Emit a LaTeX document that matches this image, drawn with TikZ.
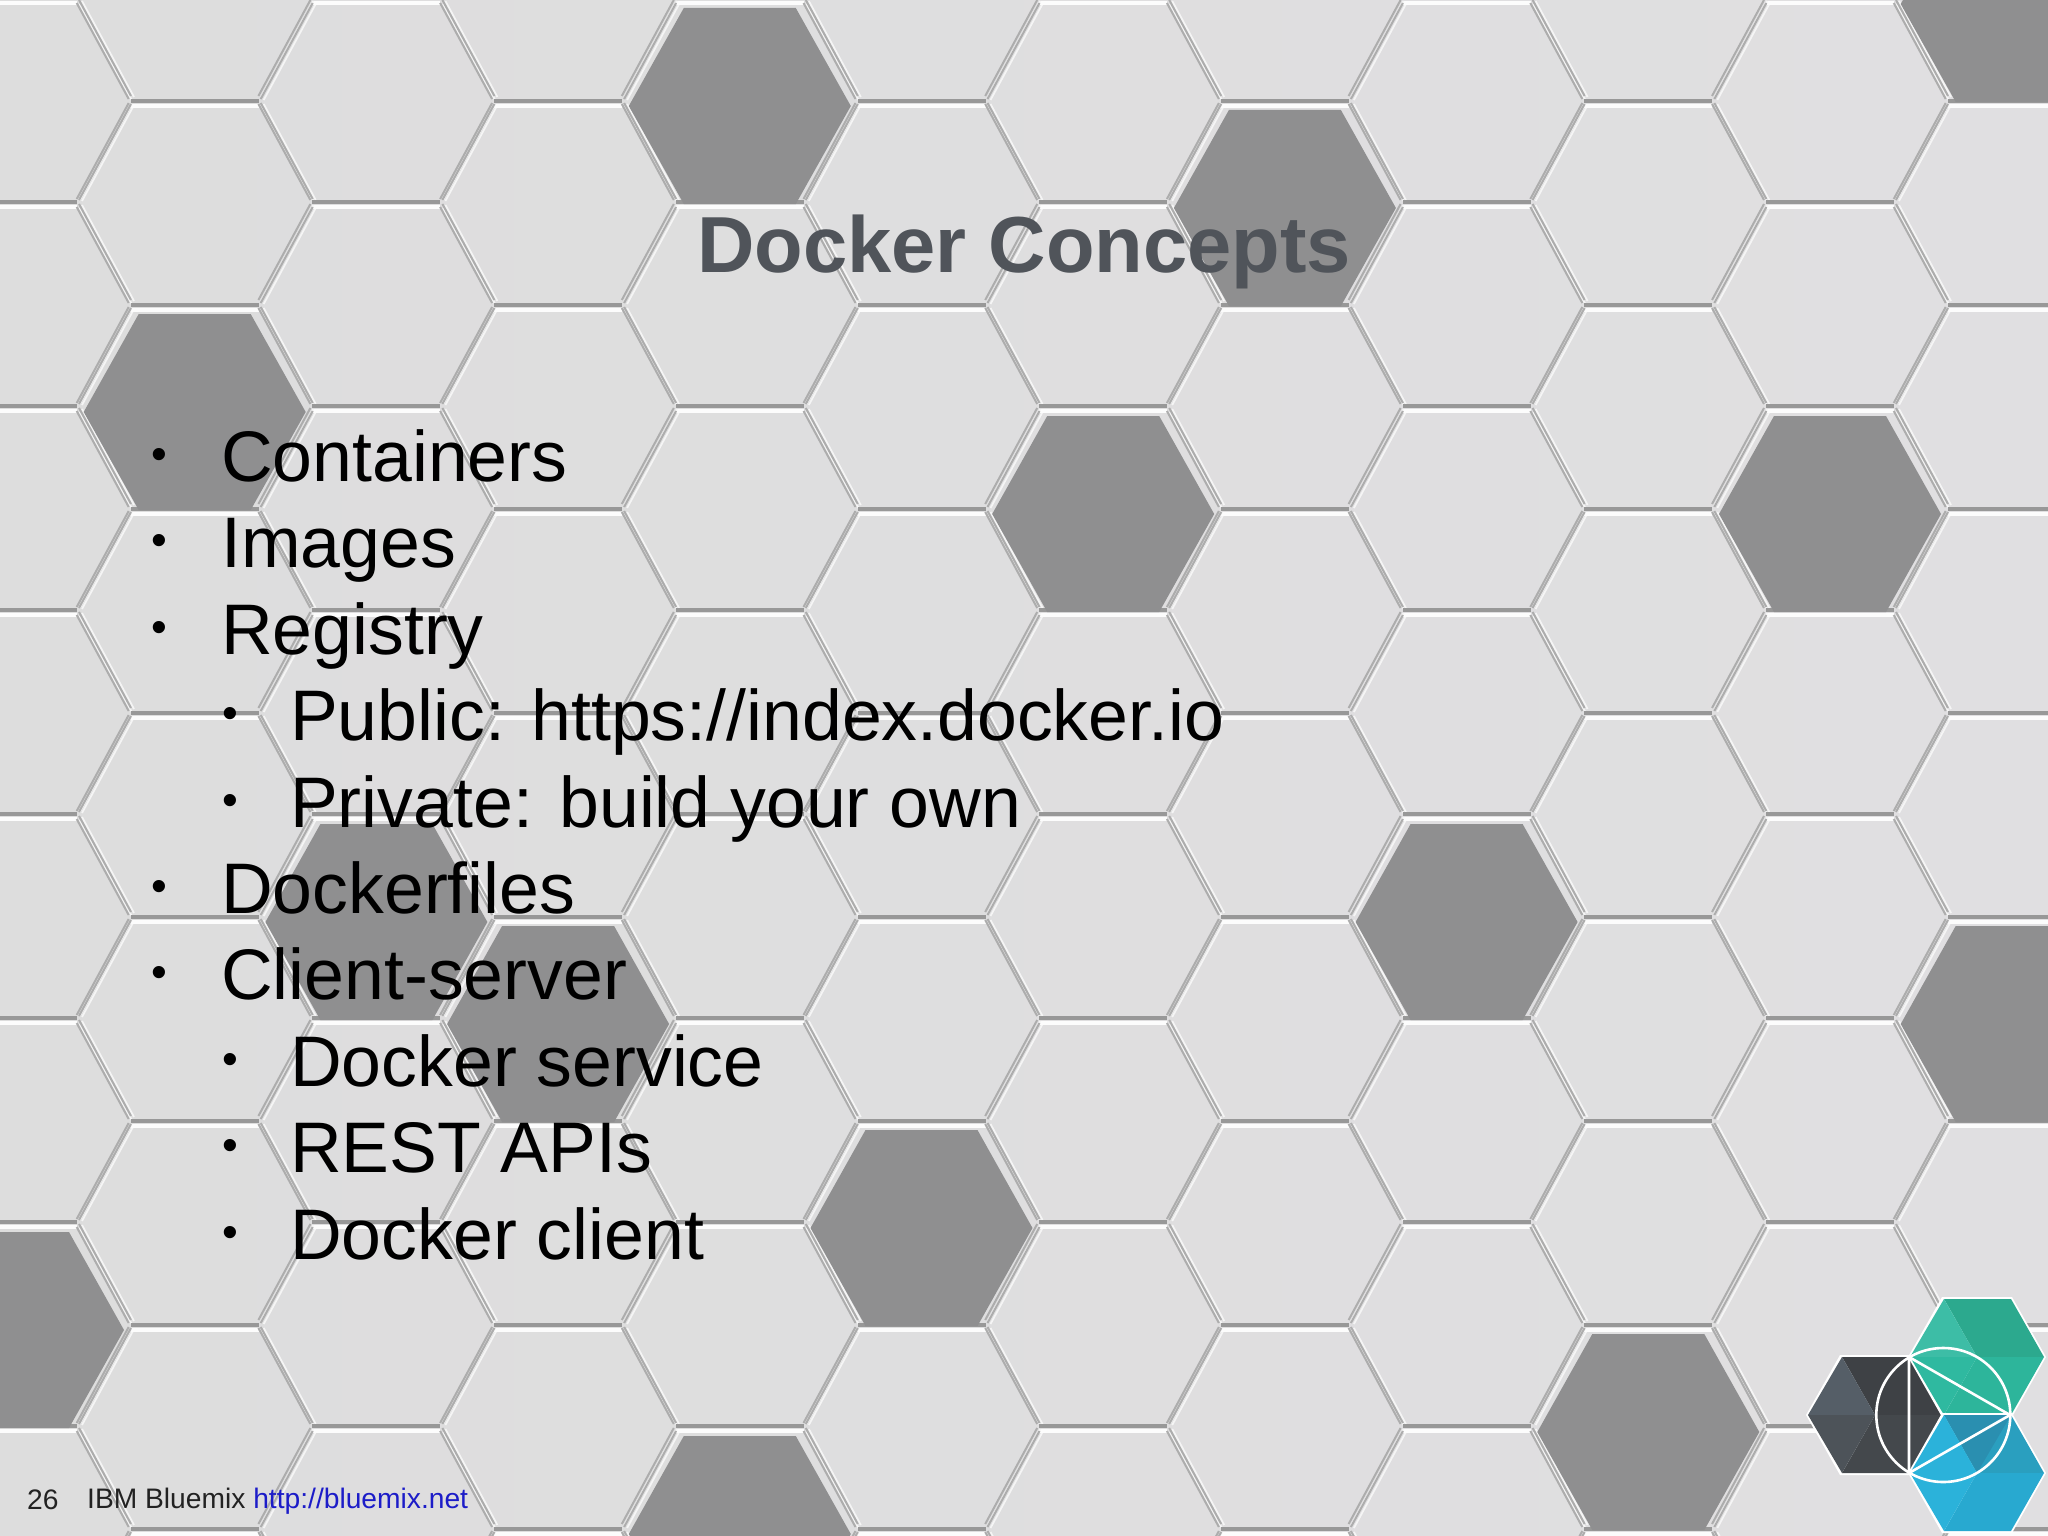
\documentclass[tikz,border=0pt]{standalone}
\usepackage{fontspec}
\setmainfont{Liberation Sans}
\definecolor{tile}{HTML}{DDDDDD}
\definecolor{tileright}{HTML}{E0DFE1}
\definecolor{tiledark}{HTML}{8F8F90}
\definecolor{groove}{HTML}{ADADAD}
\definecolor{grooveflat}{HTML}{989898}
\definecolor{titlegray}{HTML}{50545A}
\definecolor{linkblue}{HTML}{1C1CC8}
\definecolor{footgray}{HTML}{222222}
\def\gapflat{(-64,-102) -- (64,-102)}
\def\gapdiag{(-66,-100) -- (-118,-4) (66,-100) -- (118,-4) (-118,4) -- (-66,100) (118,4) -- (66,100)}
\def\darkhex{(-111,0) -- (-56,-98) -- (56,-98) -- (111,0) -- (56,98) -- (-56,98) -- cycle}
\begin{document}
\begin{tikzpicture}[x=1pt, y=-1pt,
    flat/.style = {line width=4pt, grooveflat},
    diag/.style = {line width=2pt, groove},
    flatlit/.style = {line width=3.5pt, white!90!tile},
    diaglit/.style = {line width=1.8pt, white!70!tile},
    item/.style = {anchor=base west, inner sep=0pt, font=\fontsize{71.6}{72}\selectfont},
    dot/.style = {anchor=base, inner sep=0pt, font=\fontsize{45}{45}\selectfont},
    foot/.style = {anchor=base west, inner sep=0pt, text=footgray, font=\fontsize{28.2}{29}\selectfont},
    logoline/.style = {white, line width=2.6pt}]
  \useasboundingbox (0,0) rectangle (2048,1536);
  \clip (0,0) rectangle (2048,1536);
  \shade[left color=tile, right color=tileright] (0,0) rectangle (2048,1536);
  % tile grooves
  \foreach \k in {0,...,11} \foreach \j in {-1,...,8} {
    \pgfmathsetmacro\cx{13+181.7*\k}
    \pgfmathsetmacro\cy{(mod(\k,2)==0 ? 100 : 203)+204*\j}
    \draw[flatlit, shift={(\cx,\cy+5)}] \gapflat;
    \draw[diaglit, shift={(\cx+3,\cy+1)}] \gapdiag;
  }
  \foreach \k in {0,...,11} \foreach \j in {-1,...,8} {
    \pgfmathsetmacro\cx{13+181.7*\k}
    \pgfmathsetmacro\cy{(mod(\k,2)==0 ? 100 : 203)+204*\j}
    \draw[flat, shift={(\cx,\cy)}] \gapflat;
    \draw[diag, shift={(\cx,\cy)}] \gapdiag;
  }
  % dark tiles: column / row
  \foreach \k/\j in {4/0, 7/0, 1/1, 6/2, 10/2, 11/-1, 2/4, 3/4, 8/4, 11/4, 5/5, 0/6, 9/6, 4/7} {
    \pgfmathsetmacro\cx{13+181.7*\k}
    \pgfmathsetmacro\cy{(mod(\k,2)==0 ? 106 : 208)+204*\j}
    \fill[tiledark, shift={(\cx,\cy)}] \darkhex;
  }
  % logo
  \coordinate (dk) at (1875,1415);
  \coordinate (gr) at (1977,1357);
  \coordinate (bl) at (1977,1473);
  \begin{scope}[shift={(dk)}]
    \fill[fill=white] (-69,0) -- (-35,-60) -- (35,-60) -- (69,0) -- (35,60) -- (-35,60) -- cycle;
    \fill[fill={rgb,255:red,62;green,65;blue,69}] (-33,-58) -- (34,-58) -- (67,0) -- (0,0) -- cycle;
    \fill[fill={rgb,255:red,68;green,72;blue,76}] (-33,58) -- (34,58) -- (67,0) -- (0,0) -- cycle;
    \fill[fill={rgb,255:red,85;green,94;blue,103}] (-67,0) -- (-33,-58) -- (0,0) -- cycle;
    \fill[fill={rgb,255:red,77;green,83;blue,89}] (-67,0) -- (-33,58) -- (0,0) -- cycle;
  \end{scope}
  \begin{scope}[shift={(gr)}]
    \fill[fill=white] (-69,0) -- (-35,-60) -- (35,-60) -- (69,0) -- (35,60) -- (-35,60) -- cycle;
    \fill[fill={rgb,255:red,44;green,169;blue,142}] (-33,-58) -- (34,-58) -- (67,0) -- (0,0) -- cycle;
    \fill[fill={rgb,255:red,45;green,181;blue,155}] (-33,58) -- (34,58) -- (67,0) -- (0,0) -- cycle;
    \fill[fill={rgb,255:red,61;green,189;blue,166}] (-67,0) -- (-33,-58) -- (0,0) -- cycle;
    \fill[fill={rgb,255:red,47;green,185;blue,160}] (-67,0) -- (-33,58) -- (0,0) -- cycle;
  \end{scope}
  \begin{scope}[shift={(bl)}]
    \fill[fill=white] (-69,0) -- (-35,-60) -- (35,-60) -- (69,0) -- (35,60) -- (-35,60) -- cycle;
    \fill[fill={rgb,255:red,42;green,159;blue,191}] (-33,-58) -- (34,-58) -- (67,0) -- (0,0) -- cycle;
    \fill[fill={rgb,255:red,42;green,143;blue,176}] (-33,-58) -- (0,0) -- (34,-58) -- cycle;
    \fill[fill={rgb,255:red,40;green,169;blue,208}] (-33,58) -- (34,58) -- (67,0) -- (0,0) -- cycle;
    \fill[fill={rgb,255:red,43;green,178;blue,218}] (-67,0) -- (-33,-58) -- (0,0) -- (-33,58) -- cycle;
  \end{scope}
  \coordinate (ta) at (1909,1357);
  \coordinate (tb) at (1909,1473);
  \coordinate (tc) at (2010,1415);
  \draw[logoline] (1943.3,1415) circle (67);
  \draw[logoline] (ta) -- (tb) -- (tc) -- (ta);
  % texts
  \node[anchor=base, inner sep=0pt, text=titlegray, font=\fontsize{79.5}{80}\selectfont\bfseries] (title) at (1024,272) {Docker Concepts};
  \foreach \i/\x/\y in {1/159/469, 2/159/555, 3/159/642, 4/230/728, 5/230/815, 6/159/901, 7/159/987, 8/230/1074, 9/230/1160, 10/230/1247}
    \node[dot] (dot\i) at (\x,\y) {•};
  \node[item] (containers) at (221,481) {Containers};
  \node[item] (images) at (221,567) {Images};
  \node[item] (registry) at (221,654) {Registry};
  \node[item] (public) at (290,740) {Public: https://index.docker.io};
  \node[item] (private) at (290,827) {Private: build your own};
  \node[item] (dockerfiles) at (221,913) {Dockerfiles};
  \node[item] (clientserver) at (221,999) {Client-server};
  \node[item] (service) at (290,1086) {Docker service};
  \node[item] (rest) at (290,1172) {REST APIs};
  \node[item] (client) at (290,1259) {Docker client};
  \node[foot] (page) at (27,1509) {26};
  \node[foot] (footer) at (87,1508) {IBM Bluemix \textcolor{linkblue}{http://bluemix.net}};
\end{tikzpicture}
\end{document}
